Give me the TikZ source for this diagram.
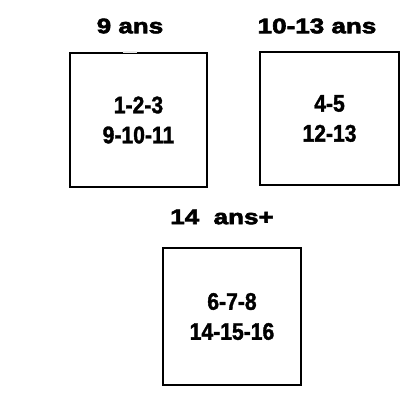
\documentclass[tikz,border=0pt]{standalone}
\usepackage{fontspec}
\setmainfont{Liberation Sans}
\newfontfamily\titlefont[FakeStretch=1.24,FakeBold=3]{Liberation Sans Bold}
\newfontfamily\boxfont[FakeStretch=0.88,FakeBold=1.5]{Liberation Sans Bold}
\begin{document}
\begin{tikzpicture}[
    x=1pt, y=1pt,
    group/.style={draw, line width=1.5pt, inner sep=0pt, align=center,
        font=\boxfont\fontsize{24}{30}\selectfont},
    agetitle/.style={inner sep=0pt, font=\titlefont\fontsize{21}{24}\selectfont}
]
\useasboundingbox (0,0) rectangle (403,-392);
\node[group, minimum width=137pt, minimum height=134pt] (g9) at (138.5,-120) {1-2-3\\9-10-11};
\node[group, minimum width=139pt, minimum height=133pt] (g10) at (329.5,-118.5) {4-5\\12-13};
\node[group, minimum width=138pt, minimum height=137pt] (g14) at (232,-316.5) {6-7-8\\14-15-16};
\node[agetitle] (t9) at (130,-26) {9 ans};
\node[agetitle] (t10) at (317,-26) {10-13 ans};
\node[agetitle] (t14) at (222,-217) {14~~ans+};
% small faded gap in the top edge
\draw[black!8, line width=1.6pt] ([xshift=-15.5pt]g9.north) -- ([xshift=-1.5pt]g9.north);
\end{tikzpicture}
\end{document}
